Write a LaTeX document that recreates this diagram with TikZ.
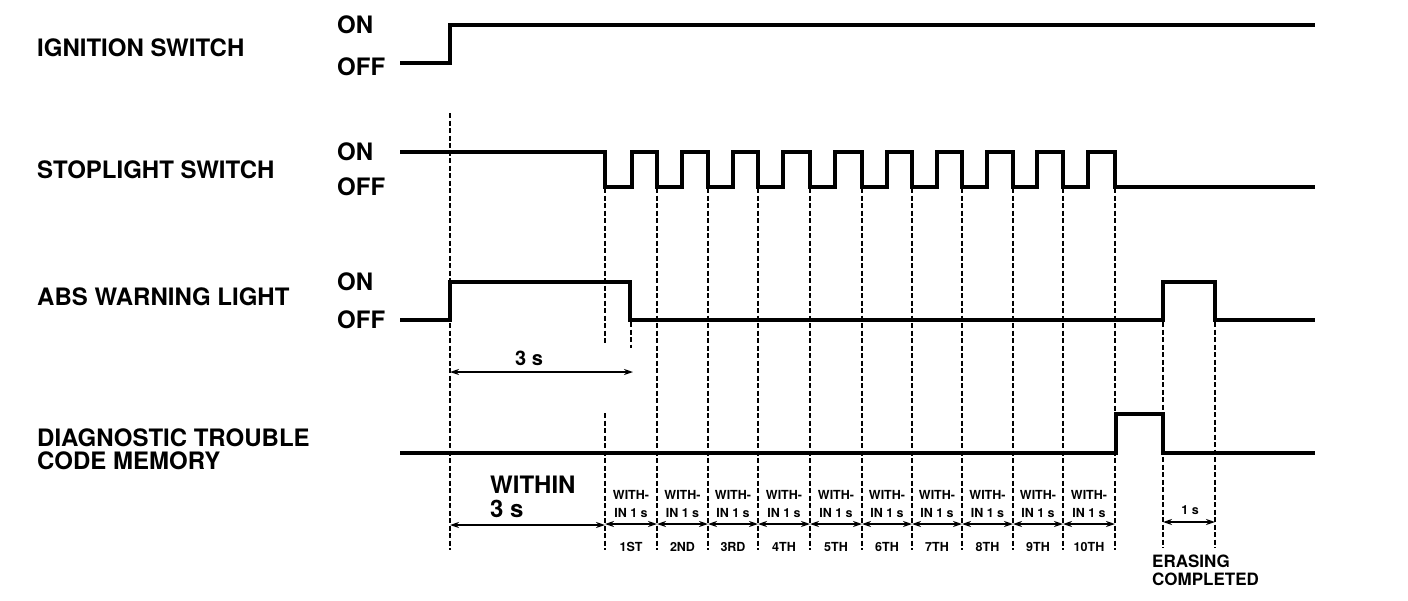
\documentclass[tikz,border=0pt]{standalone}
\usepackage{fontspec}
\setmainfont{TeX Gyre Heros}
\usetikzlibrary{arrows.meta}
\begin{document}
\begin{tikzpicture}[x=1pt,y=-1pt,
  sig/.style={line width=4pt, line join=miter, line cap=butt},
  guide/.style={line width=2pt, dash pattern=on 5pt off 2.5pt},
  dim/.style={line width=2.6pt, {Stealth[length=9pt,width=6pt]}-{Stealth[length=9pt,width=6pt]}},
  big/.style={inner sep=0pt, anchor=base west, font=\bfseries\fontsize{24}{21}\selectfont},
  mid/.style={inner sep=0pt, anchor=base west, font=\bfseries\fontsize{20}{20}\selectfont},
  ers/.style={inner sep=0pt, anchor=base west, font=\bfseries\fontsize{17}{19}\selectfont},
  tiny/.style={inner sep=0pt, anchor=base, font=\bfseries\fontsize{12.5}{12}\selectfont}
]
\useasboundingbox (0,0) rectangle (1408,600);

% ---- signal names ----
\node[big] (nIgn) at (37,56) {IGNITION SWITCH};
\node[big] (nStop) at (37,178) {STOPLIGHT SWITCH};
\node[big] (nAbs) at (37,305) {ABS WARNING LIGHT};
\node[big] (nDtcA) at (37,446) {DIAGNOSTIC TROUBLE};
\node[big] (nDtcB) at (37,469) {CODE MEMORY};

% ---- ON / OFF levels ----
\node[big] (on1) at (337,33) {ON};
\node[big] (off1) at (337,75) {OFF};
\node[big] (on2) at (337,160) {ON};
\node[big] (off2) at (337,195) {OFF};
\node[big] (on3) at (337,290) {ON};
\node[big] (off3) at (337,328) {OFF};

% ---- waveforms ----
\draw[sig] (400,63) -- (450,63) -- (450,25) -- (1315,25);

\draw[sig] (400,152) -- (605,152) -- (605,187) -- (632,187) -- (632,152)
  -- (657,152) -- (657,187) -- (682,187) -- (682,152)
  -- (708,152) -- (708,187) -- (733,187) -- (733,152)
  -- (758,152) -- (758,187) -- (783,187) -- (783,152)
  -- (810,152) -- (810,187) -- (835,187) -- (835,152)
  -- (862,152) -- (862,187) -- (887,187) -- (887,152)
  -- (912,152) -- (912,187) -- (937,187) -- (937,152)
  -- (962,152) -- (962,187) -- (987,187) -- (987,152)
  -- (1013,152) -- (1013,187) -- (1037,187) -- (1037,152)
  -- (1063,152) -- (1063,187) -- (1088,187) -- (1088,152)
  -- (1115,152) -- (1115,187) -- (1315,187);

\draw[sig] (400,320) -- (450,320) -- (450,282) -- (630,282) -- (630,320)
  -- (1163,320) -- (1163,282) -- (1215,282) -- (1215,320) -- (1315,320);

\draw[sig] (400,453) -- (1116,453) -- (1116,414) -- (1163,414) -- (1163,453) -- (1315,453);

% ---- guide lines ----
\draw[guide] (450,113) -- (450,550);
\draw[guide] (605,188) -- (605,345);
\draw[guide] (605,413) -- (605,550);
\draw[guide] (631,322) -- (631,348);
\foreach \x in {657,708,758,810,862,912,962,1013,1063,1115}
  \draw[guide] (\x,188) -- (\x,550);
\draw[guide] (1163,322) -- (1163,548);
\draw[guide] (1215,322) -- (1215,548);

% ---- 3 s ----
\coordinate (a3l) at (450,372);
\coordinate (a3r) at (633,372);
\draw[dim] (a3l) -- (a3r);
\node[mid] (t3s) at (515,365) {3 s};

% ---- within 3 s ----
\coordinate (w3l) at (450,525);
\coordinate (w3r) at (605,525);
\draw[dim] (w3l) -- (w3r);
\node[big] (tw3a) at (490,493) {WITHIN};
\node[big] (tw3b) at (490,517) {3 s};

% ---- within 1 s intervals ----
\foreach \a/\b/\o [count=\i] in {605/657/1ST,657/708/2ND,708/758/3RD,758/810/4TH,810/862/5TH,862/912/6TH,912/962/7TH,962/1013/8TH,1013/1063/9TH,1063/1115/10TH}{
  \coordinate (l\i) at (\a,524);
  \coordinate (r\i) at (\b,524);
  \draw[dim] (l\i) -- (r\i);
  \node[tiny] (wa\i) at ({(\a+\b)/2},499) {WITH-};
  \node[tiny] (wb\i) at ({(\a+\b)/2},517) {IN 1 s};
  \node[tiny] (o\i) at ({(\a+\b)/2},551) {\o};
}

% ---- 1 s erase ----
\coordinate (e1l) at (1163,522);
\coordinate (e1r) at (1215,522);
\draw[dim] (e1l) -- (e1r);
\node[tiny] (t1s) at (1190,514) {1 s};
\node[ers] (teraseA) at (1152,567) {ERASING};
\node[ers] (teraseB) at (1152,585) {COMPLETED};

\end{tikzpicture}
\end{document}
